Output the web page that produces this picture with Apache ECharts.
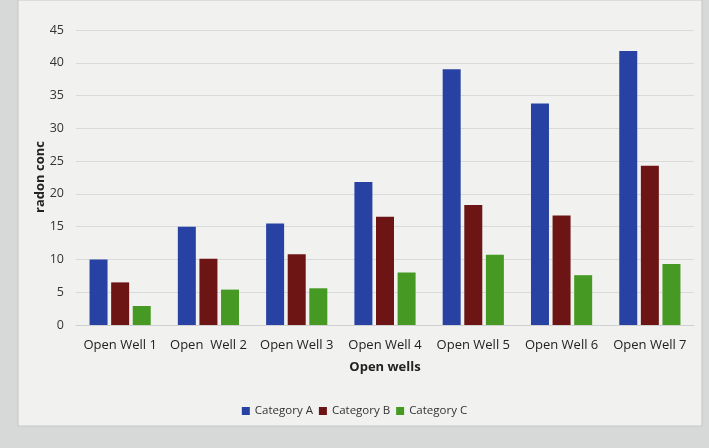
<!DOCTYPE html>
<html>
<head>
<meta charset="utf-8">
<script src="https://cdn.jsdelivr.net/npm/echarts@6/dist/echarts.min.js"></script>
<style>
html,body{margin:0;padding:0;background:#d6d9d8;}
#c{width:709px;height:448px;}
</style>
</head>
<body>
<div id="c"></div>
<script>
const categories = ['Open Well 1', 'Open  Well 2', 'Open Well 3', 'Open Well 4', 'Open Well 5', 'Open Well 6', 'Open Well 7'];
const seriesNames = ['Category A', 'Category B', 'Category C'];
const categoryA = [10, 15, 15.5, 21.8, 39, 33.8, 41.8];
const categoryB = [6.5, 10.1, 10.8, 16.5, 18.3, 16.7, 24.3];
const categoryC = [2.9, 5.4, 5.6, 8, 10.7, 7.6, 9.3];
const yTicks = [0, 5, 10, 15, 20, 25, 30, 35, 40, 45];
const yTitle = 'radon conc';
const xTitle = 'Open wells';

const colors = ['#2742a3', '#6d1414', '#469a23'];
const font = "'Open Sans', sans-serif";

const chart = echarts.init(document.getElementById('c'), null, {renderer: 'canvas'});
chart.setOption({
  backgroundColor: '#d6d9d8',
  animation: false,
  graphic: [{
    type: 'rect', z: -10, silent: true,
    shape: {x: 18, y: 0, width: 684, height: 426},
    style: {fill: '#f1f2f0', stroke: '#c4c7c6', lineWidth: 1}
  }, {
    type: 'text', silent: true,
    x: 40, y: 177, rotation: Math.PI / 2,
    style: {text: yTitle, fill: '#222', font: "bold 13px 'Open Sans', sans-serif", align: 'center', verticalAlign: 'middle'}
  }],
  color: colors,
  grid: {left: 76, right: 15, top: 30, bottom: 123},
  legend: {
    data: seriesNames,
    bottom: 26,
    left: 'center',
    itemWidth: 8, itemHeight: 8, itemGap: 6,
    icon: 'rect',
    textStyle: {fontFamily: font, fontSize: 11.5, color: '#333'}
  },
  xAxis: {
    type: 'category',
    data: categories,
    name: xTitle,
    nameLocation: 'middle',
    nameGap: 36,
    nameTextStyle: {fontFamily: font, fontSize: 13, fontWeight: 'bold', color: '#222'},
    axisLine: {show: true, lineStyle: {color: '#d0d0d0'}},
    axisTick: {show: false},
    axisLabel: {fontFamily: font, fontSize: 13, color: '#222', margin: 14, interval: 0}
  },
  yAxis: {
    type: 'value',
    min: yTicks[0],
    max: yTicks[yTicks.length - 1],
    interval: 5,
    axisLine: {show: false},
    axisTick: {show: false},
    axisLabel: {fontFamily: font, fontSize: 12.5, color: '#333', margin: 12},
    splitLine: {lineStyle: {color: '#dadada'}}
  },
  series: [
    {name: seriesNames[0], type: 'bar', data: categoryA, barWidth: 18, barGap: '20%'},
    {name: seriesNames[1], type: 'bar', data: categoryB, barWidth: 18, barGap: '20%'},
    {name: seriesNames[2], type: 'bar', data: categoryC, barWidth: 18, barGap: '20%'}
  ]
});
</script>
</body>
</html>
